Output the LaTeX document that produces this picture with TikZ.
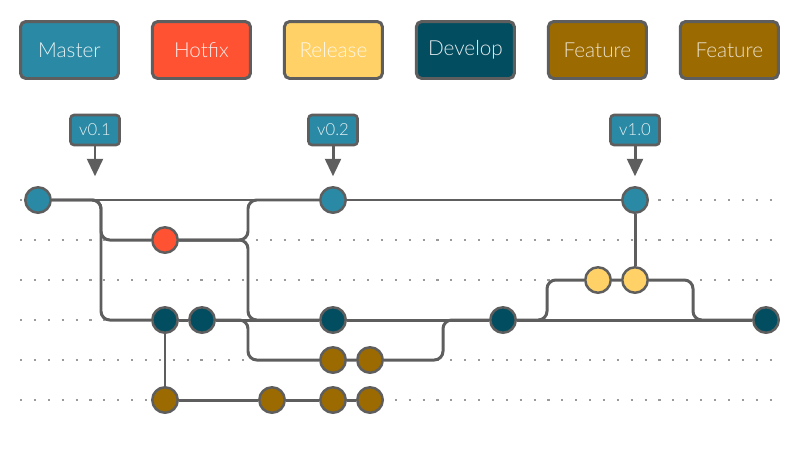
\documentclass[tikz,border=0pt]{standalone}
\usepackage{fontspec}
\setmainfont{Lato Light}
\usetikzlibrary{positioning,arrows.meta,backgrounds}
\definecolor{masterblue}{HTML}{2A89A4}
\definecolor{hotfixred}{HTML}{FF5233}
\definecolor{releaseyellow}{HTML}{FFD166}
\definecolor{developteal}{HTML}{034D61}
\definecolor{featurebrown}{HTML}{9B6A00}
\definecolor{edgegray}{HTML}{5E5E5E}
\definecolor{dotgray}{HTML}{9A9A9A}

\begin{document}
\begin{tikzpicture}[
  x=0.02cm, y=-0.02cm,
  node distance=0.62cm,
  legend/.style={draw=edgegray, line width=1.7pt, rounded corners=3pt, minimum width=1.96cm, minimum height=1.14cm, inner sep=0pt, font=\fontsize{11.8}{14}\selectfont},
  tag/.style={draw=edgegray, line width=1.5pt, rounded corners=2pt, fill=masterblue, text=masterblue!12, minimum width=0.98cm, minimum height=0.6cm, inner sep=0pt, font=\fontsize{9.5}{10}\selectfont},
  commit/.style={circle, draw=edgegray, line width=1.4pt, minimum size=0.51cm, inner sep=0pt},
  master/.style={commit, fill=masterblue},
  hotfix/.style={commit, fill=hotfixred},
  release/.style={commit, fill=releaseyellow},
  develop/.style={commit, fill=developteal},
  feature/.style={commit, fill=featurebrown},
  branch/.style={draw=edgegray, line width=1.7pt, rounded corners=5pt},
  lane/.style={dotgray, line width=1.2pt, dash pattern=on 1.2pt off 6.7pt},
  tagarrow/.style={edgegray, line width=1.7pt, -{Triangle[length=10pt,width=9pt]}}
]
\useasboundingbox (0,0) rectangle (800,450);

% Legend
\node[legend, fill=masterblue, text=masterblue!12] (lg_master) at (69.5,50) {Master};
\node[legend, fill=hotfixred, text=hotfixred!12, right=of lg_master] (lg_hotfix) {Hotfix};
\node[legend, fill=releaseyellow, text=releaseyellow!15, right=of lg_hotfix] (lg_release) {Release};
\node[legend, fill=developteal, text=developteal!12, right=of lg_release] (lg_develop) {Develop};
\node[legend, fill=featurebrown, text=featurebrown!20, right=of lg_develop] (lg_feat_a) {Feature};
\node[legend, fill=featurebrown, text=featurebrown!20, right=of lg_feat_a] (lg_feat_b) {Feature};

% Commits
\node[master] (m1) at (38,200) {};
\node[master] (m2) at (333,200) {};
\node[master] (m3) at (635,200) {};
\node[hotfix] (h1) at (165,240) {};
\node[release] (r1) at (598,280) {};
\node[release] (r2) at (635,280) {};
\node[develop] (d1) at (165,320) {};
\node[develop] (d2) at (202,320) {};
\node[develop] (d3) at (333,320) {};
\node[develop] (d4) at (503,320) {};
\node[develop] (d5) at (766,320) {};
\node[feature] (fa1) at (333,360) {};
\node[feature] (fa2) at (370,360) {};
\node[feature] (fb1) at (165,400) {};
\node[feature] (fb2) at (272,400) {};
\node[feature] (fb3) at (333,400) {};
\node[feature] (fb4) at (370,400) {};

% Tags
\node[tag] (t1) at (95,130) {v0.1};
\node[tag] (t2) at (t1 -| m2) {v0.2};
\node[tag] (t3) at (t1 -| m3) {v1.0};
\draw[tagarrow] (t1.south) -- ++(0,30);
\draw[tagarrow] (t2.south) -- ++(0,30);
\draw[tagarrow] (t3.south) -- ++(0,30);

% Branch junctions
\coordinate (fork1) at (101,240);
\coordinate (fork2) at (101,320);
\coordinate (merge1) at (248,200);
\coordinate (merge2) at (248,320);
\coordinate (fork3) at (248,360);
\coordinate (merge3) at (443,320);
\coordinate (fork4) at (547,280);
\coordinate (merge4) at (693,320);

\begin{scope}[on background layer]
  \foreach \y in {200,240,...,400}
    \draw[lane] (20,\y) -- (780,\y);
  \draw[branch] (m1) -- (m2) -- (m3);
  \draw[branch] (m1) -| (fork1) -- (h1);
  \draw[branch] (m1) -| (fork2) -- (d1);
  \draw[branch] (h1) -| (merge1) -- (m2);
  \draw[branch] (h1) -| (merge2) -- (d3);
  \draw[branch] (d1) -- (d2) -- (d3) -- (d4) -- (d5);
  \draw[branch] (d2) -| (fork3) -- (fa1) -- (fa2);
  \draw[branch] (fa2) -| (merge3) -- (d4);
  \draw[branch] (d4) -| (fork4) -- (r1) -- (r2);
  \draw[branch] (r2) -| (merge4) -- (d5);
  \draw[branch] (r2) -- (m3);
  \draw[branch] (d1) -- (fb1) -- (fb2) -- (fb3) -- (fb4);
\end{scope}
\end{tikzpicture}
\end{document}
